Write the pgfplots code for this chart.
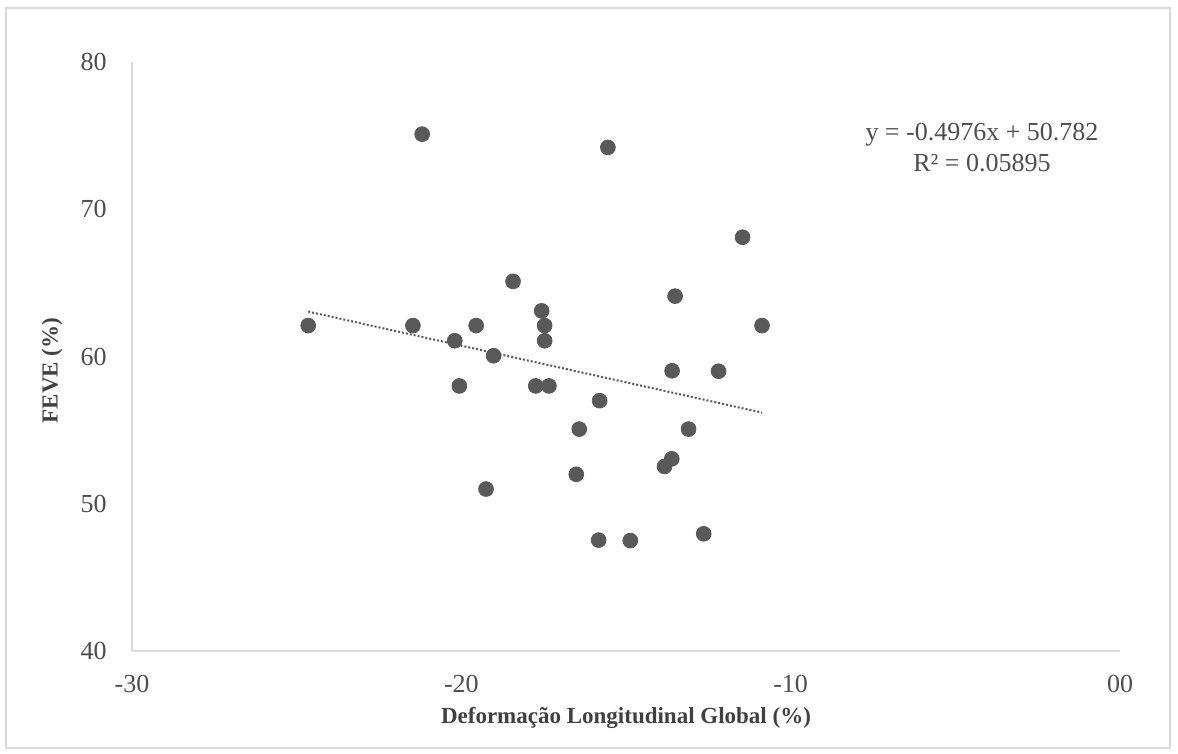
\documentclass[border=0pt]{standalone}
\usepackage{pgfplots}
\pgfplotsset{compat=1.18}
\usepackage{fontspec}
\setmainfont{Liberation Serif}
\definecolor{ptc}{HTML}{595959}
\definecolor{axc}{HTML}{D9D9D9}
\definecolor{txc}{HTML}{4D4D4D}
\definecolor{lbc}{HTML}{404040}
\begin{document}
\begin{tikzpicture}
\useasboundingbox (-66pt,-51.5pt) rectangle (523pt,325.5pt);
\draw[axc, line width=0.8pt] (-63pt,-48.5pt) rectangle (519pt,321.5pt);
\begin{axis}[
  at={(0,0)}, anchor=south west,
  scale only axis,
  width=494pt, height=294.5pt,
  xmin=-30, xmax=0, ymin=40, ymax=80,
  xtick={-30,-20,-10,0}, xticklabels={-30,-20,-10,00},
  ytick={40,50,60,70,80},
  axis x line*=bottom, axis y line*=left,
  axis line style={axc, line width=1pt, -},
  major tick length=0pt,
  tick style={draw=none},
  /pgf/number format/assume math mode=true,
  tick label style={font=\fontsize{13}{15}\selectfont, text=txc},
  xticklabel style={anchor=center, yshift=-16.5pt},
  yticklabel style={anchor=east, inner sep=0pt, xshift=-12.5pt},
  xlabel={Deformação Longitudinal Global (\%)},
  ylabel={FEVE (\%)},
  xlabel style={at={(rel axis cs:0.5,0)}, anchor=center, yshift=-33.5pt, font=\fontsize{11.5}{13}\selectfont\bfseries, text=lbc},
  ylabel style={at={(rel axis cs:0,0.5)}, anchor=center, yshift=40pt, xshift=-7pt, font=\fontsize{11.5}{13}\selectfont\bfseries, text=lbc},
  clip=false,
]
\addplot[only marks, mark=*, mark size=3.7pt, color=ptc, mark options={draw=ptc, fill=ptc}] coordinates {
(-21.19,75.1) (-15.55,74.2) (-11.46,68.1) (-18.43,65.1) (-13.51,64.1)
(-17.56,63.1) (-24.65,62.1) (-21.47,62.1) (-19.55,62.1) (-17.47,62.1)
(-10.87,62.1) (-20.2,61.07) (-17.47,61.07) (-19.02,60.05) (-13.6,59.03)
(-12.19,59.0) (-20.06,58.0) (-17.74,58.0) (-17.34,58.0) (-15.8,57.0)
(-16.42,55.07) (-13.1,55.07) (-13.61,53.05) (-13.83,52.53) (-16.51,52.0)
(-19.25,51.0) (-15.83,47.53) (-14.87,47.5) (-12.64,47.96)
};
\addplot[color=ptc, line width=1pt, dash pattern=on 1pt off 1pt] coordinates {(-24.65,63.05) (-10.87,56.19)};
\node[align=center, font=\fontsize{13}{15.5}\selectfont, text=txc] at (axis cs:-4.19,74.2) {y = -0.4976x + 50.782\\R² = 0.05895};
\end{axis}
\end{tikzpicture}
\end{document}
